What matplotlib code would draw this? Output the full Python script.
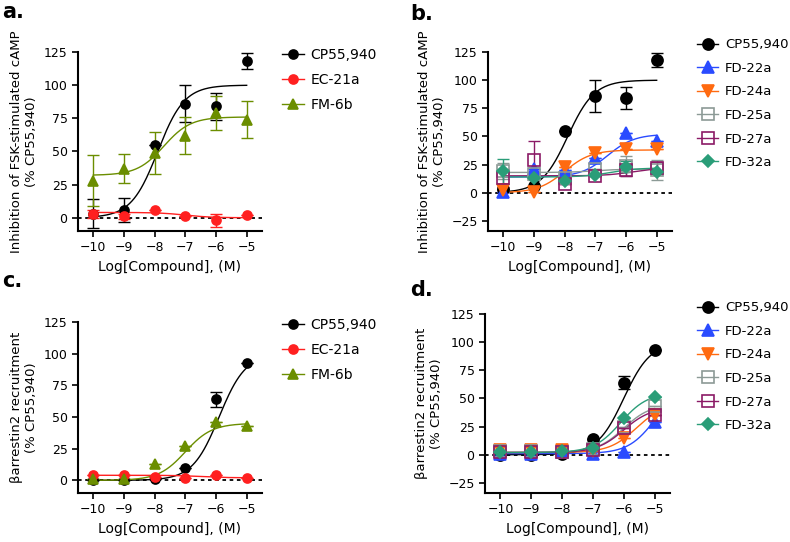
import numpy as np
import matplotlib.pyplot as plt
from matplotlib.lines import Line2D

W, H = 790, 542
logc = np.array([-10, -9, -8, -7, -6, -5])

# panel a / c compounds
names_ac = ['CP55,940', 'EC-21a', 'FM-6b']
a_vals = {'CP55,940': [3, 6, 55, 86, 84, 118],
          'EC-21a': [3, 1, 6, 1, -2, 2],
          'FM-6b': [28, 37, 49, 62, 79, 74]}
a_err = {'CP55,940': [11, 9, 0, 14, 10, 6],
         'EC-21a': [3, 2, 0, 0, 5, 0],
         'FM-6b': [19, 11, 16, 14, 13, 14]}
a_fit = {'CP55,940': (0, 100, -7.9), 'EC-21a': (4, 0, -7.0), 'FM-6b': (32, 76, -7.7)}

c_vals = {'CP55,940': [0, 0, 1, 10, 64, 93],
          'EC-21a': [4, 4, 3, 2, 4, 2],
          'FM-6b': [1, 1, 13, 27, 46, 43]}
c_err = {'CP55,940': [0, 0, 0, 0, 6, 0],
         'EC-21a': [0, 0, 0, 0, 0, 0],
         'FM-6b': [0, 0, 0, 0, 0, 0]}
c_fit = {'CP55,940': (0, 100, -5.9), 'EC-21a': (4, 2, -6.5), 'FM-6b': (0, 45, -7.0)}

# panel b / d compounds
names_bd = ['CP55,940', 'FD-22a', 'FD-24a', 'FD-25a', 'FD-27a', 'FD-32a']
b_vals = {'CP55,940': [3, 6, 55, 86, 84, 118],
          'FD-22a': [1, 21, 20, 31, 53, 46],
          'FD-24a': [2, 1, 23, 35, 39, 39],
          'FD-25a': [19, 17, 13, 21, 24, 20],
          'FD-27a': [13, 29, 8, 15, 20, 22],
          'FD-32a': [19, 13, 10, 16, 23, 18]}
b_err = {'CP55,940': [0, 0, 0, 14, 10, 6],
         'FD-22a': [0, 0, 0, 0, 0, 0],
         'FD-24a': [0, 0, 0, 0, 0, 0],
         'FD-25a': [7, 6, 0, 0, 9, 9],
         'FD-27a': [8, 17, 0, 0, 5, 5],
         'FD-32a': [11, 0, 0, 0, 5, 0]}
b_fit = {'CP55,940': (0, 100, -7.9), 'FD-22a': (14, 52, -6.6), 'FD-24a': (0, 38, -8.0),
         'FD-25a': (18, 21, -7.0), 'FD-27a': (15, 22, -5.8), 'FD-32a': (14, 22, -6.5)}

d_vals = {'CP55,940': [0, 0, 1, 14, 64, 93],
          'FD-22a': [1, 1, 2, 1, 2, 29],
          'FD-24a': [4, 4, 4, 3, 15, 35],
          'FD-25a': [3, 3, 2, 5, 25, 43],
          'FD-27a': [2, 2, 2, 4, 24, 35],
          'FD-32a': [2, 2, 3, 6, 33, 51]}
d_err = {'CP55,940': [0, 0, 0, 0, 6, 0],
         'FD-22a': [0] * 6, 'FD-24a': [0] * 6, 'FD-25a': [0] * 6,
         'FD-27a': [0] * 6, 'FD-32a': [0] * 6}
d_fit = {'CP55,940': (0, 100, -6.0), 'FD-22a': (1, 60, -5.0), 'FD-24a': (2, 45, -5.6),
         'FD-25a': (2, 45, -6.0), 'FD-27a': (2, 42, -6.0), 'FD-32a': (2, 55, -6.1)}

style = {'CP55,940': dict(c='black', m='o', fill=True),
         'EC-21a': dict(c='#ff2020', m='o', fill=True),
         'FM-6b': dict(c='#6b8e00', m='^', fill=True),
         'FD-22a': dict(c='#2a4bff', m='^', fill=True),
         'FD-24a': dict(c='#ff6a10', m='v', fill=True),
         'FD-25a': dict(c='#8c9a96', m='s', fill=False),
         'FD-27a': dict(c='#8b1a66', m='s', fill=False),
         'FD-32a': dict(c='#2a9d78', m='D', fill=True)}


def hill(x, bottom, top, ec50):
    return bottom + (top - bottom) / (1 + 10 ** (ec50 - x))


def panel(rect, letter, lpos, names, vals, errs, fits, ylab, ymin, big, legpos):
    l, t, w, h = rect
    ax = fig.add_axes([l / W, 1 - (t + h) / H, w / W, h / H])
    xs = np.linspace(-10, -5, 200)
    ms = 8 if big else 6.5
    handles = []
    for n in names:
        s = style[n]
        m_s = ms if s['m'] != 'D' else ms - 2
        ax.plot(xs, hill(xs, *fits[n]), color=s['c'], lw=1, zorder=2)
        ax.errorbar(logc, vals[n], yerr=errs[n], fmt='none', ecolor=s['c'],
                    elinewidth=1, capsize=4, zorder=3)
        ax.plot(logc, vals[n], ls='none', marker=s['m'], ms=m_s,
                color=s['c'], mfc=s['c'] if s['fill'] else 'none', mew=1.2, zorder=4)
        handles.append(Line2D([], [], color=s['c'], lw=1, marker=s['m'], ms=m_s,
                              mfc=s['c'] if s['fill'] else 'none', mew=1.2, label=n))
    ax.axhline(0, color='black', ls=(0, (2, 2)), lw=1.3, zorder=1)
    ax.set_xlim(-10.5, -4.5)
    ax.set_ylim(ymin, 125)
    ax.set_xticks(logc)
    ax.set_yticks(np.arange(-25 if ymin < -25 else 0, 126, 25))
    for sp in ['top', 'right']:
        ax.spines[sp].set_visible(False)
    for sp in ['left', 'bottom']:
        ax.spines[sp].set_linewidth(1.5)
    ax.tick_params(width=1.2, length=4, labelsize=9)
    ax.set_xlabel('Log[Compound], (M)', fontsize=10)
    ax.set_ylabel(ylab, fontsize=9.5)
    fig.legend(handles=handles, loc='upper left',
               bbox_to_anchor=(legpos[0] / W, 1 - legpos[1] / H), frameon=False,
               fontsize=10 if not big else 9.5, handlelength=1.6, handletextpad=0.5,
               labelspacing=0.8, borderaxespad=0)
    fig.text(lpos[0] / W, 1 - lpos[1] / H, letter, fontsize=15, fontweight='bold', va='top')
    return ax


fig = plt.figure(figsize=(W / 100, H / 100), dpi=100)
cAMP = 'Inhibition of FSK-stimulated cAMP\n(% CP55,940)'
arr = 'βarrestin2 recruitment\n(% CP55,940)'
panel((78, 52, 184, 179), 'a.', (2, 2), names_ac, a_vals, a_err, a_fit, cAMP, -10, False, (276, 42))
panel((488, 52, 184, 179), 'b.', (410, 4), names_bd, b_vals, b_err, b_fit, cAMP, -34, True, (692, 33))
panel((78, 322, 184, 171), 'c.', (2, 271), names_ac, c_vals, c_err, c_fit, arr, -10, False, (276, 312))
panel((485, 314, 185, 179), 'd.', (410, 280), names_bd, d_vals, d_err, d_fit, arr, -34, True, (692, 296))
fig.savefig('out.png', dpi=100)
